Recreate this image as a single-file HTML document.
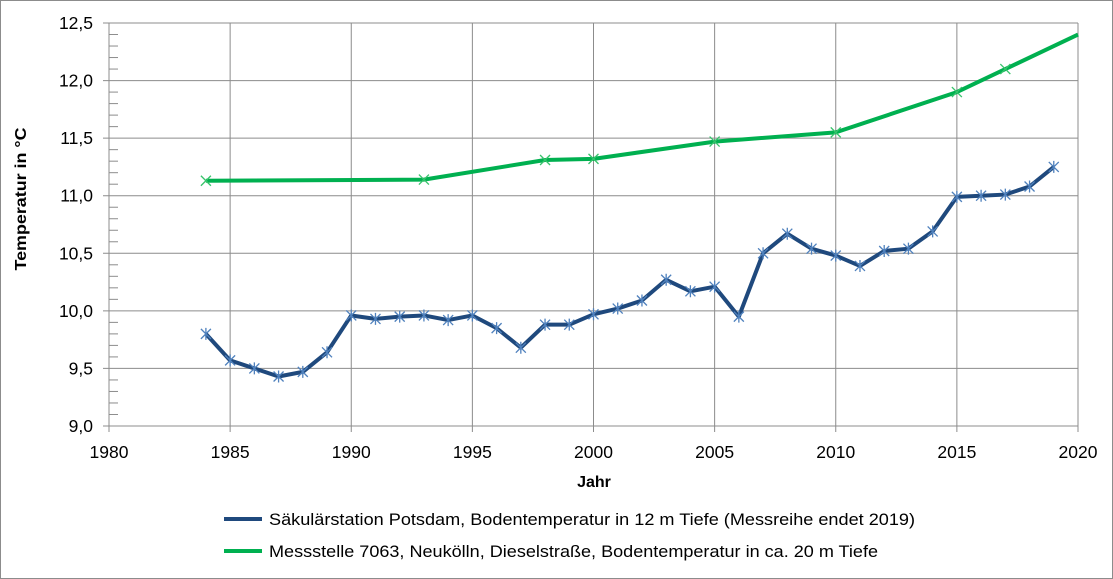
<!DOCTYPE html>
<html><head><meta charset="utf-8"><style>
body{margin:0;background:#fff}
svg{display:block;font-family:"Liberation Sans",sans-serif}
</style></head><body>
<svg id="s" width="1113" height="579" xmlns="http://www.w3.org/2000/svg">
<rect x="0.5" y="0.5" width="1112" height="578" fill="#fff" stroke="#8c8c8c"/>
<g id="g"></g>
<text x="26" y="199" transform="rotate(-90 26 199)" text-anchor="middle" font-size="16" font-weight="bold" fill="#000" textLength="143" lengthAdjust="spacingAndGlyphs">Temperatur in °C</text>
<text x="594" y="487" text-anchor="middle" font-size="16" font-weight="bold">Jahr</text>
<line x1="224" y1="519" x2="262" y2="519" stroke="#1f497d" stroke-width="4"/>
<text x="269" y="525" font-size="17" textLength="646" lengthAdjust="spacingAndGlyphs">Säkulärstation Potsdam, Bodentemperatur in 12 m Tiefe (Messreihe endet 2019)</text>
<line x1="224" y1="551" x2="262" y2="551" stroke="#00b050" stroke-width="4"/>
<text x="269" y="557" font-size="17" textLength="609" lengthAdjust="spacingAndGlyphs">Messstelle 7063, Neukölln, Dieselstraße, Bodentemperatur in ca. 20 m Tiefe</text>
</svg>
<script>
var X=function(y){return 109+(y-1980)*969/40},Y=function(v){return 426-(v-9)*403/3.5};
var h='';
for(var i=0;i<=8;i++){var x=X(1980+5*i);h+='<line x1="'+x+'" y1="23" x2="'+x+'" y2="432" stroke="#8c8c8c"/>';h+='<text x="'+x+'" y="458" text-anchor="middle" font-size="17.5">'+(1980+5*i)+'</text>';}
for(var i=0;i<=7;i++){var v=9+0.5*i,y=Y(v);h+='<line x1="103" y1="'+y+'" x2="1078" y2="'+y+'" stroke="#8c8c8c"/>';h+='<text x="93" y="'+(y+6)+'" text-anchor="end" font-size="17.5">'+v.toFixed(1).replace('.',',')+'</text>';}
for(var i=0;i<35;i++){if(i%5==0)continue;var y=Y(9+0.1*i);h+='<line x1="109" y1="'+y+'" x2="118" y2="'+y+'" stroke="#8c8c8c"/>';}
var b=[9.80,9.57,9.50,9.43,9.47,9.64,9.96,9.93,9.95,9.96,9.92,9.96,9.85,9.68,9.88,9.88,9.97,10.02,10.09,10.27,10.17,10.21,9.95,10.50,10.67,10.54,10.48,10.39,10.52,10.54,10.69,10.99,11.00,11.01,11.08,11.25];
var gp=[[1984,11.13],[1993,11.14],[1998,11.31],[2000,11.32],[2005,11.47],[2010,11.55],[2015,11.90],[2017,12.10],[2020,12.40]];
var p=gp.map(function(a){return X(a[0])+','+Y(a[1])}).join(' ');
h+='<polyline points="'+p+'" fill="none" stroke="#00b050" stroke-width="4" stroke-linejoin="round"/>';
gp.slice(0,8).forEach(function(a){var x=X(a[0]),y=Y(a[1]);h+='<path d="M'+(x-5)+' '+(y-5)+'L'+(x+5)+' '+(y+5)+'M'+(x-5)+' '+(y+5)+'L'+(x+5)+' '+(y-5)+'" stroke="#37c36b" stroke-width="1.3"/>';});
p=b.map(function(v,i){return X(1984+i)+','+Y(v)}).join(' ');
h+='<polyline points="'+p+'" fill="none" stroke="#1f497d" stroke-width="4" stroke-linejoin="round"/>';
b.forEach(function(v,i){var x=X(1984+i),y=Y(v);h+='<path d="M'+(x-5)+' '+(y-5)+'L'+(x+5)+' '+(y+5)+'M'+(x-5)+' '+(y+5)+'L'+(x+5)+' '+(y-5)+'M'+x+' '+(y-6)+'L'+x+' '+(y+6)+'" stroke="#4f81bd" stroke-width="1.3"/>';});
document.getElementById('g').innerHTML=h;
</script>
</body></html>
